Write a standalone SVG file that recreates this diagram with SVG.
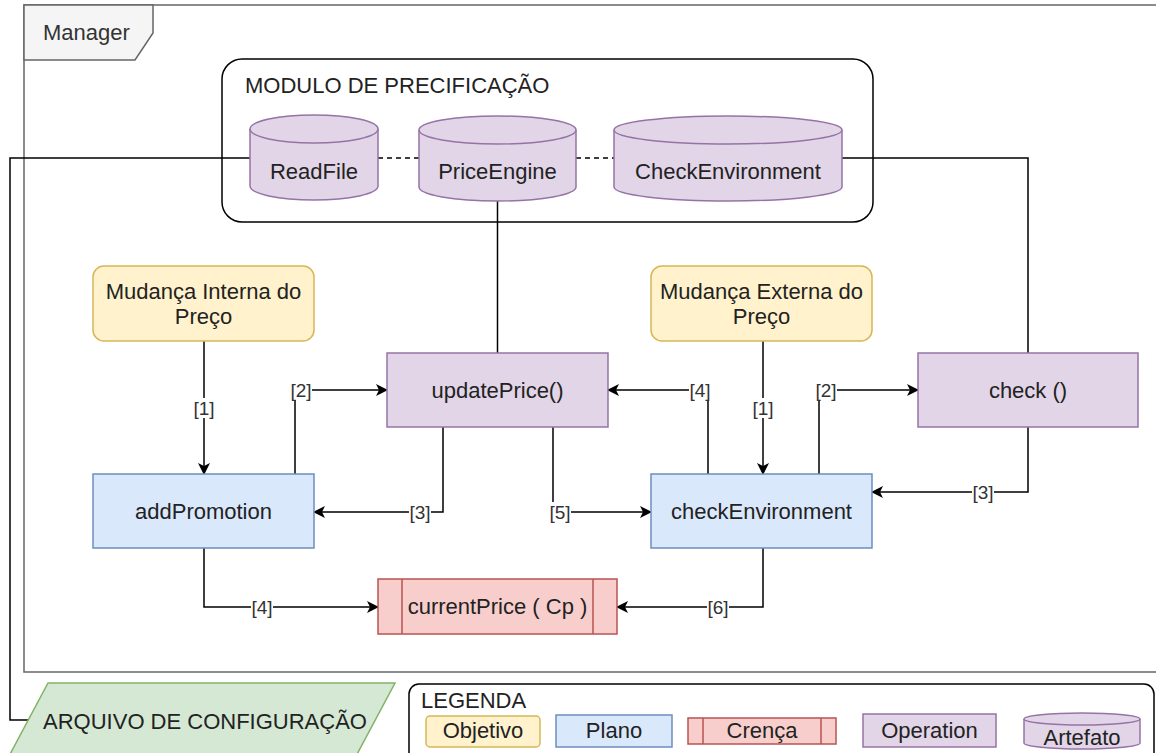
<svg xmlns="http://www.w3.org/2000/svg" width="1156" height="753" viewBox="0 0 1156 753">
  <defs>
    <style>
      text { font-family: "Liberation Sans", Arial, Helvetica, sans-serif; fill: #222; }
      .lbl { font-size: 22px; text-anchor: middle; }
      .title { font-size: 22px; }
      .edge-lbl { font-size: 19px; text-anchor: middle; fill: #333; }
      .op { fill: #e1d5e7; stroke: #9673a6; stroke-width: 1.5; }
      .plan { fill: #dae8fc; stroke: #6c8ebf; stroke-width: 1.5; }
      .goal { fill: #fff2cc; stroke: #d6b656; stroke-width: 1.5; }
      .belief { fill: #f8cecc; stroke: #b85450; stroke-width: 1.5; }
      .file { fill: #d5e8d4; stroke: #82b366; stroke-width: 1.5; }
      .wire { fill: none; stroke: #000; stroke-width: 1.5; }
      .arrow { fill: none; stroke: #000; stroke-width: 1.5; marker-end: url(#head); }
      .dash { fill: none; stroke: #000; stroke-width: 1.5; stroke-dasharray: 5 4; }
      .lblbg { fill: #fff; }
    </style>
    <marker id="head" viewBox="0 0 12 12" refX="11" refY="6" markerWidth="12" markerHeight="12" markerUnits="userSpaceOnUse" orient="auto">
      <path d="M0,0 L12,6 L0,12 L3,6 Z" fill="#000"/>
    </marker>
  </defs>

  <rect width="1156" height="753" fill="#fff"/>

  <!-- Manager frame -->
  <g id="manager">
    <rect x="24" y="5" width="1140" height="667" fill="none" stroke="#666" stroke-width="1.5"/>
    <path d="M24,5 H153 V33 L135,60 H24 Z" fill="#f5f5f5" stroke="#666" stroke-width="1.5"/>
    <text class="title" x="43" y="40" style="fill:#333">Manager</text>
  </g>

  <!-- pricing module -->
  <g id="modulo">
    <rect x="222" y="59" width="651" height="163" rx="20" fill="none" stroke="#000" stroke-width="1.5"/>
    <text class="title" x="245" y="93">MODULO DE PRECIFICAÇÃO</text>
  </g>

  <!-- connectors -->
  <g id="connectors">
    <!-- artifact links -->
    <path class="dash" d="M378,158 H419"/>
    <path class="dash" d="M576,158 H614"/>
    <path class="wire" d="M250,158 H10 V720 H28"/>
    <path class="wire" d="M842,158 H1028 V353"/>
    <path class="wire" d="M497.5,200 V353"/>

    <!-- [1] left -->
    <path class="arrow" d="M204,341 V474"/>
    <rect class="lblbg" x="193" y="398" width="22" height="20"/>
    <text class="edge-lbl" x="204" y="415">[1]</text>

    <!-- [2] left -->
    <path class="arrow" d="M295,474 V390 H387"/>
    <rect class="lblbg" x="290" y="380" width="22" height="20"/>
    <text class="edge-lbl" x="301" y="397">[2]</text>

    <!-- [3] left -->
    <path class="arrow" d="M443,427 V512 H314"/>
    <rect class="lblbg" x="409" y="502" width="22" height="20"/>
    <text class="edge-lbl" x="420" y="519">[3]</text>

    <!-- [5] -->
    <path class="arrow" d="M553,427 V512 H651"/>
    <rect class="lblbg" x="549" y="502" width="22" height="20"/>
    <text class="edge-lbl" x="560" y="519">[5]</text>

    <!-- [4] right -->
    <path class="arrow" d="M708,474 V390 H608"/>
    <rect class="lblbg" x="689" y="380" width="22" height="20"/>
    <text class="edge-lbl" x="700" y="397">[4]</text>

    <!-- [1] right -->
    <path class="arrow" d="M763,341 V474"/>
    <rect class="lblbg" x="752" y="398" width="22" height="20"/>
    <text class="edge-lbl" x="763" y="415">[1]</text>

    <!-- [2] right -->
    <path class="arrow" d="M819,474 V390 H918"/>
    <rect class="lblbg" x="815" y="380" width="22" height="20"/>
    <text class="edge-lbl" x="826" y="397">[2]</text>

    <!-- [3] right -->
    <path class="arrow" d="M1028,427 V492 H872"/>
    <rect class="lblbg" x="972" y="482" width="22" height="20"/>
    <text class="edge-lbl" x="983" y="499">[3]</text>

    <!-- [4] bottom -->
    <path class="arrow" d="M204,548 V607 H378"/>
    <rect class="lblbg" x="251" y="597" width="22" height="20"/>
    <text class="edge-lbl" x="262" y="614">[4]</text>

    <!-- [6] -->
    <path class="arrow" d="M763,548 V607 H617"/>
    <rect class="lblbg" x="707" y="597" width="22" height="20"/>
    <text class="edge-lbl" x="718" y="614">[6]</text>
  </g>

  <!-- artifacts -->
  <g id="readfile">
    <path class="op" d="M250,129 A64,14 0 0 1 378,129 V186 A64,14 0 0 1 250,186 Z"/>
    <path class="op" style="fill:none" d="M250,129 A64,14 0 0 0 378,129"/>
    <text class="lbl" x="314" y="179">ReadFile</text>
  </g>
  <g id="priceengine">
    <path class="op" d="M419,130 A78.5,14 0 0 1 576,130 V187 A78.5,14 0 0 1 419,187 Z"/>
    <path class="op" style="fill:none" d="M419,130 A78.5,14 0 0 0 576,130"/>
    <text class="lbl" x="497.5" y="179">PriceEngine</text>
  </g>
  <g id="checkenvironment-artifact">
    <path class="op" d="M614,130 A114,14 0 0 1 842,130 V187 A114,14 0 0 1 614,187 Z"/>
    <path class="op" style="fill:none" d="M614,130 A114,14 0 0 0 842,130"/>
    <text class="lbl" x="728" y="179">CheckEnvironment</text>
  </g>

  <!-- goals -->
  <g id="mudanca-interna">
    <rect class="goal" x="93" y="266" width="221" height="75" rx="11"/>
    <text class="lbl" x="203.5" y="299">Mudança Interna do</text>
    <text class="lbl" x="203.5" y="324">Preço</text>
  </g>
  <g id="mudanca-externa">
    <rect class="goal" x="651" y="266" width="221" height="75" rx="11"/>
    <text class="lbl" x="761.5" y="299">Mudança Externa do</text>
    <text class="lbl" x="761.5" y="324">Preço</text>
  </g>

  <!-- operations -->
  <g id="updateprice">
    <rect class="op" x="387" y="353" width="221" height="74"/>
    <text class="lbl" x="497.5" y="398">updatePrice()</text>
  </g>
  <g id="check">
    <rect class="op" x="918" y="353" width="220" height="74"/>
    <text class="lbl" x="1028" y="398">check ()</text>
  </g>

  <!-- plans -->
  <g id="addpromotion">
    <rect class="plan" x="93" y="474" width="221" height="74"/>
    <text class="lbl" x="203.5" y="519">addPromotion</text>
  </g>
  <g id="checkenvironment">
    <rect class="plan" x="651" y="474" width="221" height="74"/>
    <text class="lbl" x="761.5" y="519">checkEnvironment</text>
  </g>

  <!-- belief -->
  <g id="currentprice">
    <rect class="belief" x="378" y="579" width="239" height="55"/>
    <path class="belief" d="M402,579 V634 M593,579 V634"/>
    <text class="lbl" x="497.5" y="614">currentPrice ( Cp )</text>
  </g>

  <!-- configuration file -->
  <g id="arquivo">
    <path class="file" d="M48,683 H395 L355,758 H8 Z"/>
    <text class="title" x="205" y="729" text-anchor="middle">ARQUIVO DE CONFIGURAÇÃO</text>
  </g>

  <!-- legend -->
  <g id="legenda">
    <rect x="409" y="684" width="745" height="90" rx="10" fill="#fff" stroke="#000" stroke-width="1.5"/>
    <text class="title" x="421" y="708">LEGENDA</text>
    <rect class="goal" x="426" y="716" width="114" height="31" rx="4"/>
    <text class="lbl" x="483" y="738">Objetivo</text>
    <rect class="plan" x="556" y="715" width="116" height="32"/>
    <text class="lbl" x="614" y="738">Plano</text>
    <rect class="belief" x="688" y="718" width="148" height="26"/>
    <path class="belief" d="M703,718 V744 M821,718 V744"/>
    <text class="lbl" x="762" y="738">Crença</text>
    <rect class="op" x="863" y="714" width="133" height="33"/>
    <text class="lbl" x="929.5" y="738">Operation</text>
    <path class="op" d="M1024,719 A58,6 0 0 1 1140,719 V743 A58,6 0 0 1 1024,743 Z"/>
    <path class="op" style="fill:none" d="M1024,719 A58,6 0 0 0 1140,719"/>
    <text class="lbl" x="1082" y="745">Artefato</text>
  </g>
</svg>
